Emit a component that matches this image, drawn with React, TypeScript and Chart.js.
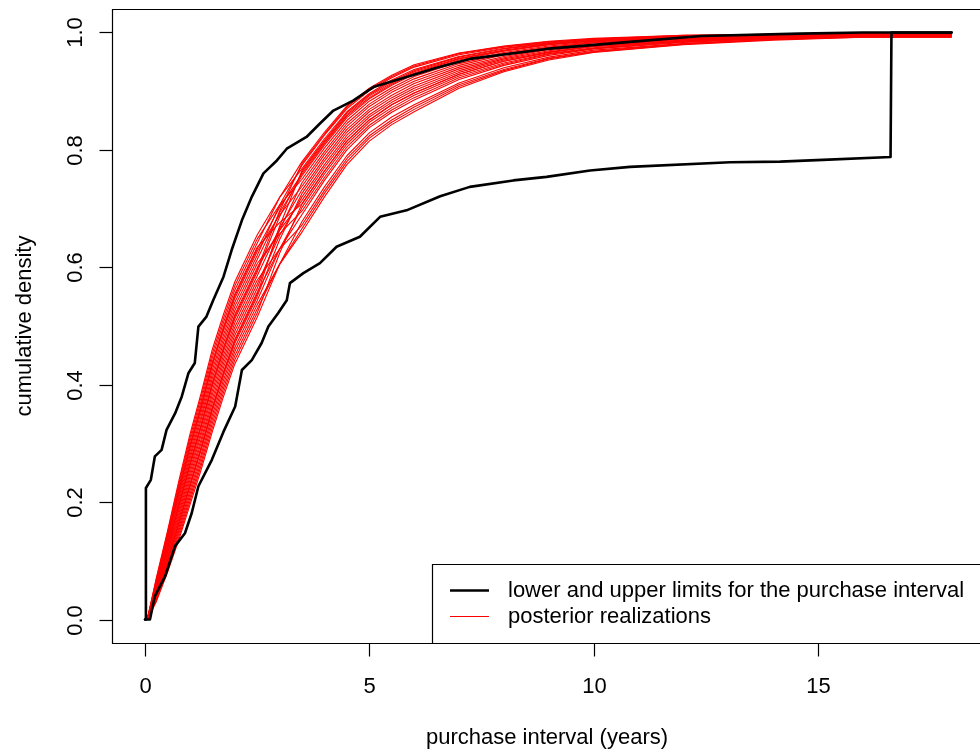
import React, { useEffect, useRef } from "react";
import { Chart, registerables } from "chart.js";

Chart.register(...registerables);

// ---- text ----
const xTitle = "purchase interval (years)";
const yTitle = "cumulative density";
const legendLabels = [
  "lower and upper limits for the purchase interval",
  "posterior realizations",
];

// ---- ticks ----
const xTicks = [0, 5, 10, 15];
const xTickLabels = ["0", "5", "10", "15"];
const yTicks = [0, 0.2, 0.4, 0.6, 0.8, 1.0];
const yTickLabels = ["0.0", "0.2", "0.4", "0.6", "0.8", "1.0"];

// ---- black limit curves ----
const upperX = [0, 0.02, 0.13, 0.22, 0.37, 0.48, 0.67, 0.82, 0.97, 1.11, 1.19, 1.37, 1.52, 1.75, 1.93, 2.16, 2.38, 2.64, 2.94, 3.16, 3.6, 3.9, 4.2, 4.64, 5.09, 5.83, 6.5, 7.24, 8.95, 10.81, 12.4, 14.6, 16.0, 17.98];
const upperY = [0, 0.224, 0.238, 0.278, 0.289, 0.323, 0.351, 0.38, 0.42, 0.437, 0.499, 0.516, 0.544, 0.584, 0.629, 0.68, 0.72, 0.76, 0.782, 0.802, 0.822, 0.845, 0.867, 0.884, 0.907, 0.924, 0.94, 0.955, 0.972, 0.984, 0.994, 0.998, 1.0, 1.0];

const lowerX = [0, 0.11, 0.22, 0.45, 0.67, 0.89, 1.04, 1.19, 1.49, 1.75, 2.01, 2.16, 2.38, 2.6, 2.75, 2.97, 3.16, 3.23, 3.53, 3.9, 4.27, 4.79, 5.24, 5.83, 6.58, 7.24, 8.21, 8.95, 9.92, 10.81, 13.04, 14.16, 15.11, 16.62, 16.64, 17.98];
const lowerY = [0, 0, 0.04, 0.074, 0.125, 0.147, 0.181, 0.227, 0.272, 0.32, 0.363, 0.425, 0.442, 0.471, 0.499, 0.522, 0.544, 0.573, 0.59, 0.607, 0.635, 0.652, 0.686, 0.697, 0.721, 0.737, 0.748, 0.754, 0.765, 0.771, 0.779, 0.78, 0.783, 0.788, 1.0, 1.0];

// ---- red posterior realizations (shared x grid) ----
const redX = [0.05, 0.25, 0.5, 0.75, 1, 1.25, 1.5, 1.75, 2, 2.5, 3, 3.5, 4, 4.5, 5, 5.5, 6, 7, 8, 9, 10, 12, 14, 16, 17.98];
const red01 = [0, .07, .15, .235, .315, .385, .46, .52, .575, .655, .719, .768, .819, .865, .896, .919, .937, .959, .973, .982, .988, .993, .996, .997, .997];
const red02 = [0, .066, .143, .225, .303, .372, .446, .506, .561, .641, .719, .78, .83, .875, .905, .927, .945, .965, .977, .985, .99, .995, .997, .998, .998];
const red03 = [0, .062, .136, .215, .291, .359, .432, .492, .547, .627, .689, .738, .792, .84, .874, .898, .917, .944, .962, .974, .982, .989, .994, .996, .996];
const red04 = [0, .058, .129, .205, .279, .346, .418, .478, .533, .613, .693, .756, .808, .855, .887, .91, .929, .953, .968, .979, .985, .992, .995, .997, .997];
const red05 = [0, .054, .122, .195, .267, .333, .404, .464, .519, .599, .663, .714, .77, .82, .856, .881, .901, .932, .953, .967, .977, .986, .992, .995, .995];
const red06 = [0, .05, .115, .185, .255, .32, .39, .45, .505, .585, .667, .732, .786, .835, .869, .893, .913, .941, .959, .972, .98, .989, .993, .996, .996];
const red07 = [0, .046, .108, .175, .243, .307, .376, .436, .491, .571, .654, .72, .775, .825, .86, .885, .905, .935, .955, .969, .978, .987, .992, .995, .995];
const red08 = [0, .042, .101, .165, .231, .294, .362, .422, .477, .557, .631, .69, .748, .8, .838, .864, .885, .92, .944, .961, .972, .983, .99, .994, .994];
const red09 = [0, .038, .094, .155, .219, .281, .348, .408, .463, .543, .631, .702, .759, .81, .847, .872, .893, .926, .948, .964, .974, .985, .991, .994, .994];
const red10 = [0, .034, .087, .145, .207, .268, .334, .394, .449, .529, .605, .666, .726, .78, .82, .847, .869, .908, .935, .955, .967, .98, .988, .992, .992];
const red11 = [0, .03, .08, .135, .195, .255, .32, .38, .435, .515, .605, .678, .737, .79, .829, .856, .877, .914, .94, .958, .97, .981, .989, .993, .993];
const red12 = [0, .06, .133, .21, .285, .353, .425, .485, .54, .62, .706, .774, .825, .87, .901, .923, .941, .962, .975, .983, .989, .994, .997, .998, .998];
const red13 = [0, .044, .105, .17, .237, .301, .369, .429, .484, .564, .663, .744, .797, .845, .878, .902, .921, .947, .964, .975, .983, .99, .994, .996, .996];
const red14 = [0, .056, .126, .2, .273, .34, .411, .471, .526, .606, .657, .696, .753, .805, .842, .868, .889, .923, .946, .963, .973, .984, .99, .994, .994];
const red15 = [0, .036, .091, .15, .213, .275, .341, .401, .456, .536, .605, .66, .72, .775, .815, .843, .865, .905, .933, .953, .966, .979, .987, .992, .992];
const red16 = [0, .068, .147, .23, .309, .379, .453, .513, .568, .648, .706, .75, .803, .85, .883, .906, .925, .95, .966, .977, .984, .991, .995, .997, .997];
const red17 = [0, .052, .119, .19, .261, .327, .397, .457, .512, .592, .686, .762, .814, .86, .892, .914, .933, .956, .97, .98, .986, .993, .996, .997, .997];
const red18 = [0, .04, .098, .16, .225, .288, .355, .415, .47, .55, .647, .726, .781, .83, .865, .889, .909, .938, .957, .971, .979, .988, .993, .995, .995];
const red19 = [0, .064, .14, .22, .297, .366, .439, .499, .554, .634, .676, .708, .764, .815, .851, .877, .897, .929, .951, .966, .976, .985, .991, .994, .994];
const red20 = [0, .032, .084, .14, .201, .262, .327, .387, .442, .522, .624, .708, .764, .815, .851, .877, .897, .929, .951, .966, .976, .985, .991, .994, .994];
const red21 = [0, .053, .12, .193, .264, .33, .401, .461, .516, .596, .696, .777, .827, .873, .903, .925, .943, .964, .976, .984, .989, .995, .997, .998, .998];
const red22 = [0, .048, .112, .18, .249, .314, .383, .443, .498, .578, .631, .672, .731, .785, .824, .851, .873, .911, .937, .956, .968, .981, .988, .993, .993];
const red23 = [0, .063, .138, .218, .294, .362, .436, .496, .551, .631, .702, .759, .811, .858, .889, .912, .931, .955, .969, .979, .986, .992, .995, .997, .997];
const red24 = [0, .041, .099, .163, .228, .291, .359, .419, .474, .554, .67, .765, .816, .863, .894, .917, .935, .958, .972, .981, .987, .993, .996, .997, .997];
const redCurves = [red01, red02, red03, red04, red05, red06, red07, red08, red09, red10, red11, red12, red13, red14, red15, red16, red17, red18, red19, red20, red21, red22, red23, red24];

// ---- axis ranges ----
const xMin = -0.736;
const xMax = 18.614;
const yMin = -0.04;
const yMax = 1.04;

const FONT = '"Liberation Sans", Arial, Helvetica, sans-serif';

const zip = (xs: number[], ys: number[]) => xs.map((x, i) => ({ x, y: ys[i] }));

const decorPlugin = {
  id: "rdecor",
  afterDraw(chart: any) {
    const ctx = chart.ctx as CanvasRenderingContext2D;
    const xs = chart.scales.x;
    const ys = chart.scales.y;
    const a = chart.chartArea;
    ctx.save();
    ctx.strokeStyle = "#000";
    ctx.fillStyle = "#000";
    ctx.lineWidth = 1.2;
    // box
    const L = Math.round(a.left) + 0.5;
    const T = Math.round(a.top) + 0.5;
    const B = Math.round(a.bottom) + 0.5;
    ctx.beginPath();
    ctx.moveTo(a.right + 40, T);
    ctx.lineTo(L, T);
    ctx.lineTo(L, B);
    ctx.lineTo(a.right + 40, B);
    ctx.stroke();

    ctx.font = `22px ${FONT}`;
    // x ticks
    ctx.textAlign = "center";
    ctx.textBaseline = "middle";
    xTicks.forEach((v, i) => {
      const px = Math.round(xs.getPixelForValue(v)) + 0.5;
      ctx.beginPath();
      ctx.moveTo(px, B);
      ctx.lineTo(px, B + 13);
      ctx.stroke();
      ctx.fillText(xTickLabels[i], px, B + 43);
    });
    // y ticks
    yTicks.forEach((v, i) => {
      const py = Math.round(ys.getPixelForValue(v)) + 0.5;
      ctx.beginPath();
      ctx.moveTo(L, py);
      ctx.lineTo(L - 13, py);
      ctx.stroke();
      ctx.save();
      ctx.translate(L - 37, py);
      ctx.rotate(-Math.PI / 2);
      ctx.fillText(yTickLabels[i], 0, 0);
      ctx.restore();
    });
    // titles
    ctx.fillText(xTitle, 547, B + 94);
    ctx.save();
    ctx.translate(L - 88, (a.top + a.bottom) / 2);
    ctx.rotate(-Math.PI / 2);
    ctx.fillText(yTitle, 0, 0);
    ctx.restore();

    // legend
    ctx.lineWidth = 1.2;
    ctx.beginPath();
    ctx.rect(432.5, 564.5, 600, B - 564.5);
    ctx.stroke();
    const ly1 = 590.5;
    const ly2 = 616.5;
    ctx.lineCap = "butt";
    ctx.strokeStyle = "#000";
    ctx.lineWidth = 2.6;
    ctx.beginPath();
    ctx.moveTo(450, ly1);
    ctx.lineTo(489, ly1);
    ctx.stroke();
    ctx.strokeStyle = "#ff0000";
    ctx.lineWidth = 1;
    ctx.beginPath();
    ctx.moveTo(450, ly2);
    ctx.lineTo(489, ly2);
    ctx.stroke();
    ctx.textAlign = "left";
    ctx.fillStyle = "#000";
    ctx.fillText(legendLabels[0], 508, ly1);
    ctx.fillText(legendLabels[1], 508, ly2);
    ctx.restore();
  },
};

export default function App() {
  const ref = useRef<HTMLCanvasElement | null>(null);
  useEffect(() => {
    document.body.style.margin = "0";
    document.body.style.overflow = "hidden";
    const canvas = ref.current!;
    const blackCommon = {
      borderColor: "#000000",
      borderWidth: 2.6,
      pointRadius: 0,
      tension: 0,
      fill: false,
      borderJoinStyle: "round" as const,
      borderCapStyle: "round" as const,
    };
    const datasets: any[] = [
      { ...blackCommon, label: "upper", data: zip(upperX, upperY) },
      { ...blackCommon, label: "lower", data: zip(lowerX, lowerY) },
      ...redCurves.map((c, i) => ({
        label: `r${i}`,
        data: zip(redX, c),
        borderColor: "#ff0000",
        borderWidth: 1.1,
        pointRadius: 0,
        tension: 0,
        fill: false,
        borderJoinStyle: "round" as const,
      })),
    ];
    const chart = new Chart(canvas, {
      type: "line",
      data: { datasets },
      options: {
        animation: false,
        responsive: false,
        devicePixelRatio: 1,
        layout: { padding: { left: 112, top: 9, right: 0, bottom: 111 } },
        plugins: { legend: { display: false }, tooltip: { enabled: false } },
        scales: {
          x: { type: "linear", min: xMin, max: xMax, display: false },
          y: { type: "linear", min: yMin, max: yMax, display: false },
        },
        events: [],
      },
      plugins: [decorPlugin],
    });
    return () => chart.destroy();
  }, []);
  return (
    <div style={{ width: 980, height: 754, background: "#fff" }}>
      <canvas ref={ref} width={980} height={754} style={{ display: "block" }} />
    </div>
  );
}
